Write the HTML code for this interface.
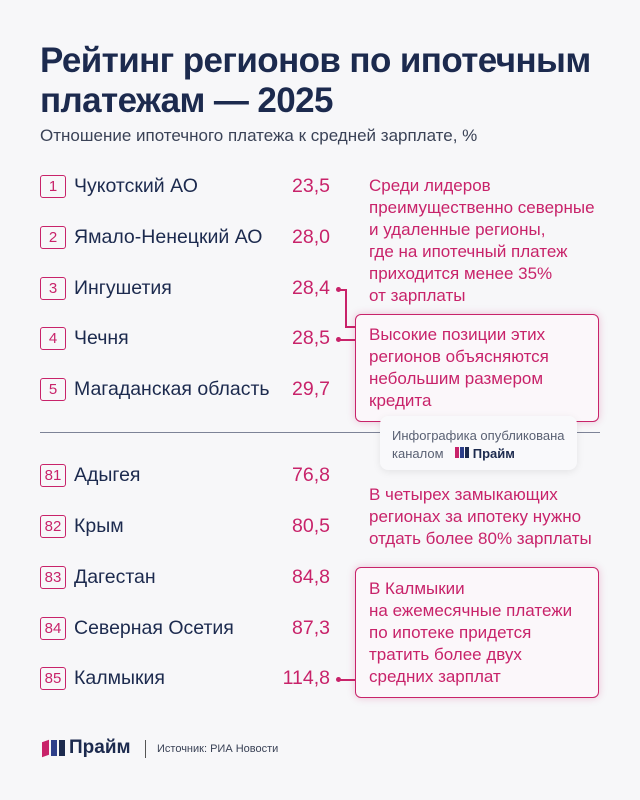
<!DOCTYPE html><html><head><meta charset="utf-8"><style>
body{margin:0;width:640px;height:800px;background:#f7f7f9;font-family:"Liberation Sans",sans-serif;position:relative;overflow:hidden}
.a{position:absolute;white-space:nowrap}
h1{position:absolute;left:40px;top:41px;margin:0;font-size:35px;line-height:40px;color:#1c2a4e;font-weight:bold;letter-spacing:-0.6px}
.sub{left:40px;top:126px;font-size:17px;color:#3a4256}
.n{position:absolute;left:40px;width:24px;height:21px;border:1.5px solid #c8236a;border-radius:3px;color:#c8236a;font-size:15px;text-align:center;line-height:21px;box-sizing:content-box}
.nm{left:74px;font-size:19.5px;color:#1c2a4e}
.v{font-size:19.5px;color:#c8236a;right:310px}
.p{color:#c8236a;font-size:17px;line-height:22px}
.box{position:absolute;border:1.5px solid #c8236a;border-radius:6px;background:#fbf7fa;box-shadow:0 0 8px rgba(200,35,106,.25)}
.dot{position:absolute;width:5px;height:5px;border-radius:50%;background:#c8236a}
.ln{position:absolute;background:#c8236a}
</style></head><body>
<h1>Рейтинг регионов по ипотечным<br>платежам — 2025</h1>
<div class="a sub">Отношение ипотечного платежа к средней зарплате, %</div>

<div class="n" style="top:175px">1</div><div class="a nm" style="top:175px">Чукотский АО</div><div class="a v" style="top:175px">23,5</div>
<div class="n" style="top:226px">2</div><div class="a nm" style="top:226px">Ямало-Ненецкий АО</div><div class="a v" style="top:226px">28,0</div>
<div class="n" style="top:277px">3</div><div class="a nm" style="top:277px">Ингушетия</div><div class="a v" style="top:277px">28,4</div>
<div class="n" style="top:327px">4</div><div class="a nm" style="top:327px">Чечня</div><div class="a v" style="top:327px">28,5</div>
<div class="n" style="top:378px">5</div><div class="a nm" style="top:378px">Магаданская область</div><div class="a v" style="top:378px">29,7</div>

<div class="a" style="left:40px;top:432px;width:560px;height:1px;background:#7d8397"></div>

<div class="n" style="top:464px">81</div><div class="a nm" style="top:464px">Адыгея</div><div class="a v" style="top:464px">76,8</div>
<div class="n" style="top:515px">82</div><div class="a nm" style="top:515px">Крым</div><div class="a v" style="top:515px">80,5</div>
<div class="n" style="top:566px">83</div><div class="a nm" style="top:566px">Дагестан</div><div class="a v" style="top:566px">84,8</div>
<div class="n" style="top:617px">84</div><div class="a nm" style="top:617px">Северная Осетия</div><div class="a v" style="top:617px">87,3</div>
<div class="n" style="top:667px">85</div><div class="a nm" style="top:667px">Калмыкия</div><div class="a v" style="top:667px">114,8</div>

<div class="a p" style="left:369px;top:175px">Среди лидеров<br>преимущественно северные<br>и удаленные регионы,<br>где на ипотечный платеж<br>приходится менее 35%<br>от зарплаты</div>

<div class="dot" style="left:336px;top:287px"></div><div class="ln" style="left:339px;top:289px;width:7px;height:1.5px"></div>
<div class="ln" style="left:345px;top:289px;width:1.5px;height:38px"></div><div class="ln" style="left:345px;top:326px;width:11px;height:1.5px"></div>
<div class="dot" style="left:336px;top:337px"></div><div class="ln" style="left:339px;top:339px;width:17px;height:1.5px"></div>
<div class="box" style="left:355px;top:314px;width:242px;height:106px"></div>
<div class="a p" style="left:369px;top:324px">Высокие позиции этих<br>регионов объясняются<br>небольшим размером<br>кредита</div>

<div class="a" style="left:380px;top:416px;width:197px;height:54px;background:#f9f9fb;border-radius:8px;box-shadow:0 2px 8px rgba(0,0,0,.08)"></div>
<div class="a" style="left:392px;top:427px;font-size:13px;color:#5a6173;line-height:18px">Инфографика опубликована<br>каналом <span style="display:inline-block;width:4px;height:11px;background:#c8236a;margin-left:8px"></span><span style="display:inline-block;width:4px;height:11px;background:#2d3f8a;margin-left:1px"></span><span style="display:inline-block;width:4px;height:11px;background:#1c2a4e;margin-left:1px"></span> <b style="color:#1c2a4e">Прайм</b></div>

<div class="a p" style="left:369px;top:484px">В четырех замыкающих<br>регионах за ипотеку нужно<br>отдать более 80% зарплаты</div>

<div class="box" style="left:355px;top:567px;width:242px;height:129px"></div>
<div class="a p" style="left:369px;top:578px">В Калмыкии<br>на ежемесячные платежи<br>по ипотеке придется<br>тратить более двух<br>средних зарплат</div>
<div class="dot" style="left:336px;top:677px"></div><div class="ln" style="left:339px;top:679px;width:17px;height:1.5px"></div>

<div class="a" style="left:42px;top:741px;width:7px;height:15px;background:#c8236a;transform:skewY(-20deg)"></div>
<div class="a" style="left:51px;top:740px;width:6px;height:16px;background:#2d3f8a"></div>
<div class="a" style="left:59px;top:740px;width:6px;height:16px;background:#1c2a4e"></div>
<div class="a" style="left:69px;top:737px;font-size:19px;font-weight:bold;color:#1c2a4e">Прайм</div>
<div class="a" style="left:145px;top:740px;width:1px;height:18px;background:#555"></div>
<div class="a" style="left:157px;top:743px;font-size:11px;color:#3a4256">Источник: РИА Новости</div>
</body></html>
